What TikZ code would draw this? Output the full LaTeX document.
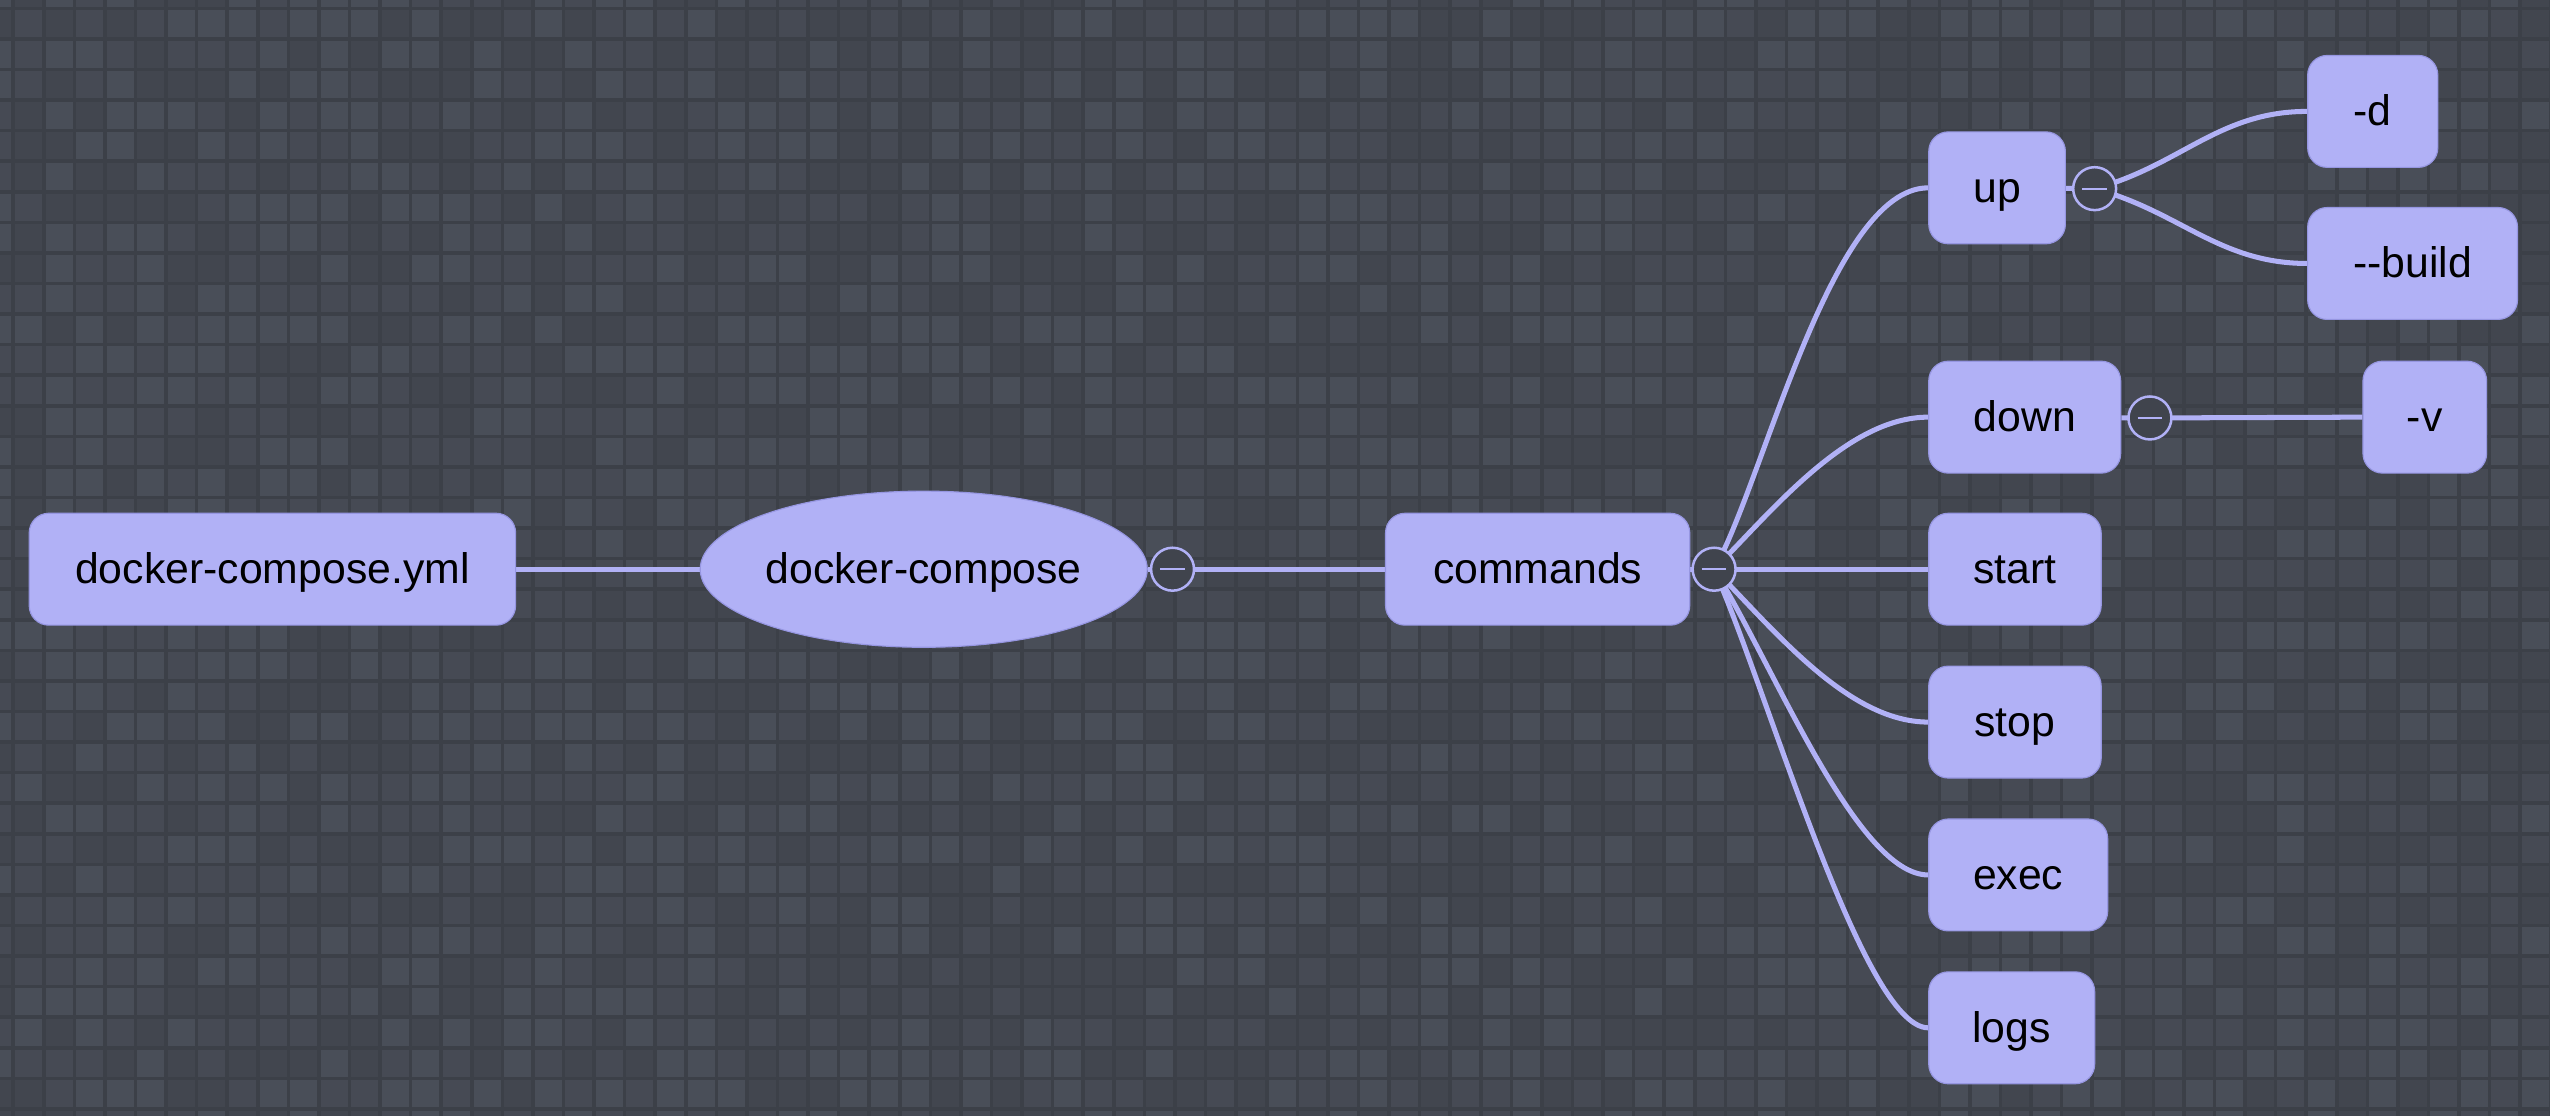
\documentclass[tikz,border=0pt]{standalone}
\usepackage{fontspec}
\setmainfont{Liberation Sans}
\usetikzlibrary{shapes.geometric,backgrounds}

\definecolor{lav}{RGB}{177,177,246}
\definecolor{lavedge}{RGB}{150,150,225}
\definecolor{bgline}{RGB}{60,64,72}
\definecolor{tile0}{RGB}{73,78,88}
\definecolor{tile1}{RGB}{70,74,84}
\definecolor{tile2}{RGB}{66,70,79}
\definecolor{foldbg}{RGB}{64,68,77}

\tikzset{
  topic/.style={draw=lavedge, line width=0.5pt, fill=lav, rounded corners=0.3cm,
    minimum height=1.72cm, inner sep=0pt, text height=15.5pt, text depth=3pt,
    font=\fontsize{18.7}{22}\selectfont},
  hub/.style={topic, ellipse, rounded corners=0pt, minimum width=6.8cm, minimum height=2.4cm},
  fold/.style={circle, draw=lav, line width=1.1pt, fill=foldbg, minimum size=0.66cm, inner sep=0pt,
    path picture={\draw[lav, line width=1pt]
      ([xshift=-0.19cm]path picture bounding box.center) --
      ([xshift=0.19cm]path picture bounding box.center);}},
  branch/.style={draw=lav, line width=2.2pt},
}

\begin{document}
\begin{tikzpicture}[x=0.025cm, y=-0.025cm]
  \useasboundingbox (0,0) rectangle (1568,686);

  % tiled backdrop
  \begin{scope}[on background layer]
    \clip (0,0) rectangle (1568,686);
    \fill[bgline] (0,0) rectangle (1568,686);
    \pgfmathsetseed{42}
    \foreach \i in {-1,...,83}
      \foreach \j in {-1,...,36} {
        \pgfmathrandominteger{\s}{0}{2}
        \fill[tile\s] ({9.2+18.8*\i},{6.2+18.8*\j}) rectangle +(16.6,16.6);
      }
  \end{scope}

  % topics
  \node[topic, minimum width=7.475cm] (yml) at (167.5,350) {docker-compose.yml};
  \node[hub] (dc) at (568,350) {docker-compose};
  \node[fold] (dcfold) at (721,350) {};
  \node[topic, minimum width=4.675cm] (cmd) at (945.5,350) {commands};
  \node[fold] (cmdfold) at (1054,350) {};

  \node[topic, minimum width=2.1cm] (up) at (1228,115.5) {up};
  \node[fold] (upfold) at (1288,116) {};
  \node[topic, minimum width=2cm] (d) at (1459,68.5) {-d};
  \node[topic, minimum width=3.225cm] (build) at (1483.5,162) {-\kern0pt-build};

  \node[topic, minimum width=2.95cm] (down) at (1245,256.5) {down};
  \node[fold] (downfold) at (1322,257) {};
  \node[topic, minimum width=1.9cm] (v) at (1491,256.5) {-v};

  \node[topic, minimum width=2.65cm] (start) at (1239,350) {start};
  \node[topic, minimum width=2.65cm] (stop) at (1239,444) {stop};
  \node[topic, minimum width=2.75cm] (exec) at (1241,538) {exec};
  \node[topic, minimum width=2.55cm] (logs) at (1237,632) {logs};

  % branches
  \begin{scope}[on background layer]
    \draw[branch] (yml) -- (dc);
    \draw[branch] (dc) -- (dcfold.center);
    \draw[branch] (dcfold.center) -- (cmd);
    \draw[branch] (cmd) -- (cmdfold.center);

    \draw[branch] (cmdfold.center) to[out=60, in=180, out distance=1.5cm, in distance=1.5cm] (up.west);
    \draw[branch] (cmdfold.center) to[out=45, in=180, out distance=1.25cm, in distance=1.25cm] (down.west);
    \draw[branch] (cmdfold.center) -- (start.west);
    \draw[branch] (cmdfold.center) to[out=-45, in=180, out distance=1.25cm, in distance=1.25cm] (stop.west);
    \draw[branch] (cmdfold.center) to[out=-58, in=180, out distance=1.7cm, in distance=1.1cm] (exec.west);
    \draw[branch] (cmdfold.center) to[out=-66, in=180, out distance=2cm, in distance=1cm] (logs.west);

    \draw[branch] (up) -- (upfold.center);
    \draw[branch] (upfold.center) to[out=15, in=180] (d.west);
    \draw[branch] (upfold.center) to[out=-15, in=180] (build.west);

    \draw[branch] (down) -- (downfold.center);
    \draw[branch] (downfold.center) -- (v.west);
  \end{scope}
\end{tikzpicture}
\end{document}
